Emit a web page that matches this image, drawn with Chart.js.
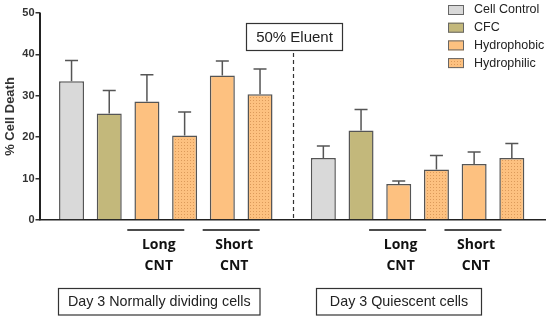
<!DOCTYPE html>
<html>
<head>
<meta charset="utf-8">
<script src="https://cdn.jsdelivr.net/npm/chart.js@4/dist/chart.umd.min.js"></script>
<style>
  html, body { margin: 0; padding: 0; background: #fff; }
  #wrap { width: 550px; height: 320px; position: relative; }
</style>
</head>
<body>
<div id="wrap"><canvas id="cellChart"></canvas></div>
<script>
// Data
const seriesNames = ['Cell Control', 'CFC', 'Hydrophobic', 'Hydrophilic'];
const slotSeries = [0, 1, 2, 3, 2, 3]; // series index of each bar inside a group
const groupLabels = ['Day 3 Normally dividing cells', 'Day 3 Quiescent cells'];
const cntLabels = ['Long', 'Short'];
const dividingMean = [33.5, 25.7, 28.6, 20.4, 34.9, 30.4];
const dividingErr = [5.0, 5.6, 6.5, 5.7, 3.5, 6.1];
const quiescentMean = [15.0, 21.6, 8.7, 12.2, 13.5, 15.0];
const quiescentErr = [2.9, 5.1, 0.7, 3.4, 2.9, 3.5];
const yTicks = [0, 10, 20, 30, 40, 50];

const GROUP_GAP = 0.68; // extra space between the two groups (in bar slots)
const SPLIT_X = 5.87;   // where the dashed divider sits

const fills = ['#d9d9d9', '#c3b87b', '#fdc180', null];

function dotPattern() {
    const c = document.createElement('canvas');
    c.width = 3; c.height = 3;
    const g = c.getContext('2d');
    g.fillStyle = '#fdc180';
    g.fillRect(0, 0, 3, 3);
    g.fillStyle = '#dc9a5a';
    g.fillRect(1, 1, 1, 1);
    return g.createPattern(c, 'repeat');
}
fills[3] = dotPattern();

function slotX(group, i) {
    return group * (6 + GROUP_GAP) + i;
}

const groupsMean = [dividingMean, quiescentMean];
const groupsErr = [dividingErr, quiescentErr];

const datasets = seriesNames.map((name, s) => {
    const pts = [];
    groupsMean.forEach((means, g) => {
        means.forEach((v, i) => {
            if (slotSeries[i] === s) pts.push({ x: slotX(g, i), y: v, err: groupsErr[g][i] });
        });
    });
    return {
        label: name,
        data: pts,
        backgroundColor: fills[s],
        borderColor: '#555',
        borderWidth: 1.5,
        borderSkipped: 'bottom',
        maxBarThickness: 25,
        grouped: false
    };
});

// error bars (upper only)
const errorBars = {
    id: 'errorBars',
    afterDatasetsDraw(chart) {
        const ctx = chart.ctx;
        const y = chart.scales.y;
        ctx.save();
        ctx.strokeStyle = '#555';
        ctx.lineWidth = 1.5;
        chart.data.datasets.forEach((ds, d) => {
            chart.getDatasetMeta(d).data.forEach((bar, k) => {
                const p = ds.data[k];
                const top = y.getPixelForValue(p.y + p.err);
                ctx.beginPath();
                ctx.moveTo(bar.x, bar.y);
                ctx.lineTo(bar.x, top);
                ctx.moveTo(bar.x - 6.5, top);
                ctx.lineTo(bar.x + 6.5, top);
                ctx.stroke();
            });
        });
        ctx.restore();
    }
};

// legend, divider, group annotations
const extras = {
    id: 'extras',
    afterDraw(chart) {
        const ctx = chart.ctx;
        const x = chart.scales.x;
        const area = chart.chartArea;
        ctx.save();

        // y axis line
        ctx.strokeStyle = '#222';
        ctx.lineWidth = 2;
        ctx.beginPath();
        ctx.moveTo(40, area.top);
        ctx.lineTo(40, area.bottom);
        ctx.stroke();

        // legend
        ctx.font = '12.5px "Liberation Sans", Arial, sans-serif';
        ctx.textBaseline = 'middle';
        ctx.textAlign = 'left';
        chart.data.datasets.forEach((ds, i) => {
            const cy = 10 + i * 17.7;
            ctx.fillStyle = ds.backgroundColor;
            ctx.fillRect(448, cy - 5, 16, 10);
            ctx.strokeStyle = '#666';
            ctx.lineWidth = 1;
            ctx.strokeRect(448.5, cy - 4.5, 15, 9);
            ctx.fillStyle = '#222';
            ctx.fillText(ds.label, 474, cy);
        });

        // dashed divider
        const dx = Math.round(x.getPixelForValue(SPLIT_X)) + 0.5;
        ctx.strokeStyle = '#333';
        ctx.lineWidth = 1.2;
        ctx.setLineDash([4, 3]);
        ctx.beginPath();
        ctx.moveTo(dx, 53);
        ctx.lineTo(dx, area.bottom);
        ctx.stroke();
        ctx.setLineDash([]);

        // "50% Eluent" box
        ctx.lineWidth = 1.2;
        ctx.strokeStyle = '#333';
        ctx.strokeRect(246.5, 23.5, 96, 27);
        ctx.fillStyle = '#222';
        ctx.textAlign = 'center';
        ctx.font = '15px "Liberation Sans", Arial, sans-serif';
        ctx.fillText('50% Eluent', 294.5, 37.5);

        // Long / Short CNT brackets
        const shifts = [10, 20];
        groupLabels.forEach((gl, g) => {
            [2, 4].forEach((i, c) => {
                const a = x.getPixelForValue(slotX(g, i));
                const b = x.getPixelForValue(slotX(g, i + 1));
                const mid = (a + b) / 2 - shifts[g];
                ctx.strokeStyle = '#111';
                ctx.lineWidth = 1.5;
                ctx.beginPath();
                ctx.moveTo(mid - 28.5, 230);
                ctx.lineTo(mid + 28.5, 230);
                ctx.stroke();
                ctx.fillStyle = '#111';
                ctx.font = 'bold 14px "Open Sans", sans-serif';
                ctx.fillText(cntLabels[c], mid + 3, 245);
                ctx.fillText('CNT', mid + 3, 266);
            });
        });

        // group boxes
        const boxes = [[58.5, 201.5], [316.5, 165]];
        ctx.font = '14.3px "Liberation Sans", Arial, sans-serif';
        groupLabels.forEach((gl, g) => {
            const [bx, bw] = boxes[g];
            ctx.strokeStyle = '#333';
            ctx.lineWidth = 1.2;
            ctx.strokeRect(bx, 288.5, bw, 26.5);
            ctx.fillStyle = '#222';
            ctx.fillText(gl, bx + bw / 2, 302);
        });
        ctx.restore();
    }
};

new Chart(document.getElementById('cellChart'), {
    type: 'bar',
    data: { datasets: datasets },
    options: {
        responsive: true,
        maintainAspectRatio: false,
        animation: false,
        layout: { padding: { top: 13, right: 5, bottom: 100, left: 0 } },
        scales: {
            x: {
                type: 'linear',
                offset: false,
                min: -0.85,
                max: 12.56,
                grid: { display: false, offset: false },
                ticks: { display: false },
                border: { display: true, color: '#222', width: 1.5 },
                afterFit: s => { s.height = 0; }
            },
            y: {
                min: 0,
                max: 50,
                afterBuildTicks: s => { s.ticks = yTicks.map(v => ({ value: v })); },
                grid: { drawOnChartArea: false, drawTicks: true, tickLength: 4, color: '#333', lineWidth: 1.5 },
                border: { display: true, color: '#333', width: 1.5 },
                ticks: {
                    color: '#333',
                    padding: 1,
                    font: { family: '"Liberation Sans", Arial, sans-serif', size: 11, weight: 'bold' }
                },
                title: {
                    display: true,
                    text: '% Cell Death',
                    color: '#333',
                    padding: { top: 3, bottom: 2 },
                    font: { family: '"Liberation Sans", Arial, sans-serif', size: 13, weight: 'bold' }
                },
                afterFit: s => { s.width = 39.5; }
            }
        },
        plugins: {
            legend: { display: false },
            tooltip: { enabled: false }
        }
    },
    plugins: [errorBars, extras]
});
</script>
</body>
</html>
